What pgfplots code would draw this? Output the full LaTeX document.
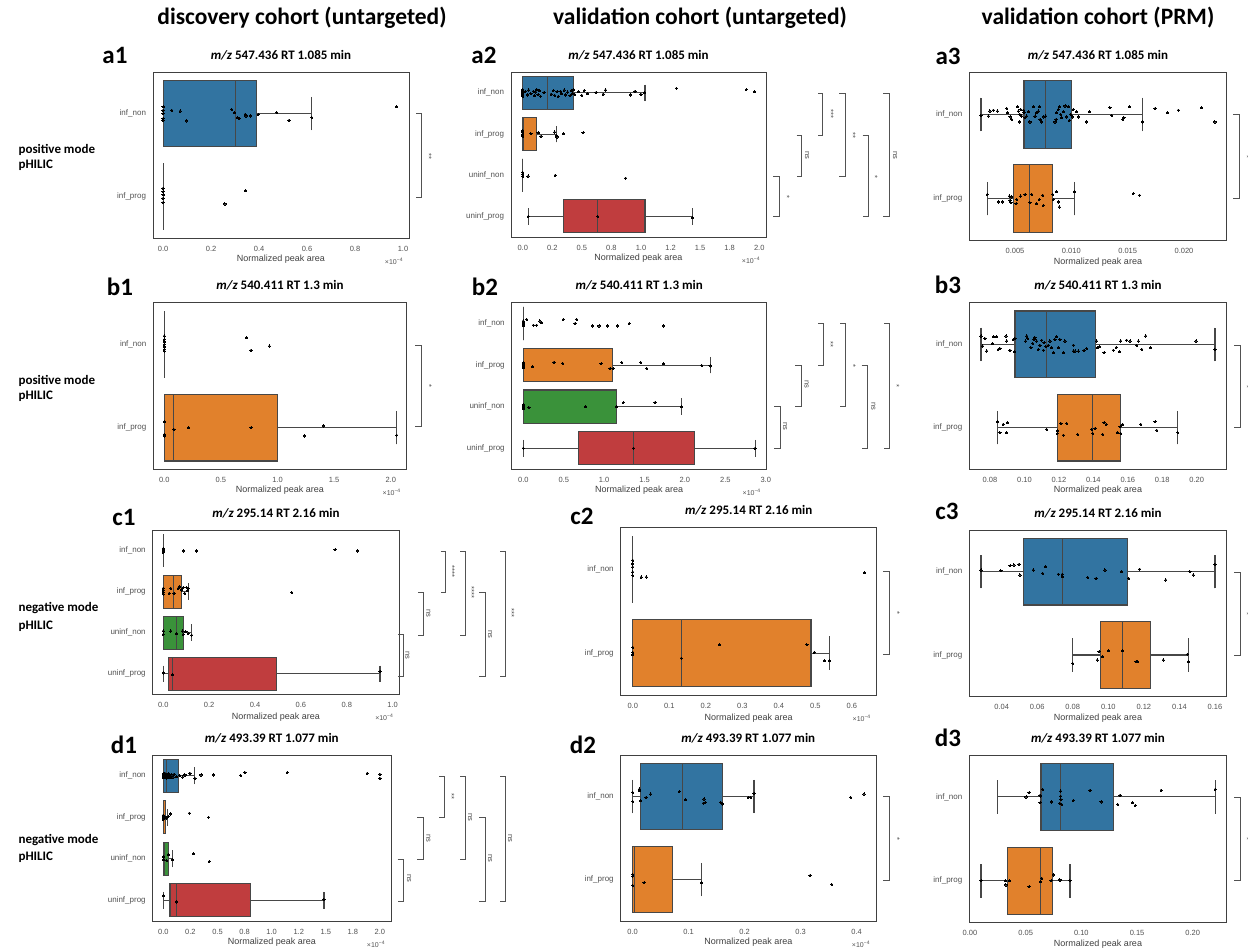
\documentclass[border=0pt]{standalone}
\usepackage{fontspec}
\setmainfont{Liberation Sans}
\newfontfamily\carl{Carlito}
\usepackage{pgfplots}
\pgfplotsset{compat=1.18}
\usepgfplotslibrary{statistics}
\definecolor{cblue}{HTML}{3274A1}
\definecolor{corange}{HTML}{E1812C}
\definecolor{cgreen}{HTML}{3A923A}
\definecolor{cred}{HTML}{C03D3E}
\definecolor{edge}{HTML}{474747}
\pgfplotsset{
  panel/.style={
    scale only axis, clip=false, anchor=south west, scaled x ticks=false, scaled y ticks=false,
    axis line style={draw=black!75, line width=1pt},
    major tick length=0pt, tick style={draw=none},
    tick label style={font=\fontsize{7.5}{9}\selectfont, text=black!68},
    xticklabel style={anchor=center, yshift=-10.5pt},
    yticklabel style={anchor=east, xshift=-3.5pt, font=\fontsize{8}{9}\selectfont},
    title style={font=\carl\bfseries\fontsize{13}{15}\selectfont, anchor=center, at={(0.5,1)}, yshift=11pt},
    xlabel={Normalized peak area},
    xlabel style={font=\fontsize{9}{10}\selectfont, text=black!75, at={(axis description cs:0.5,0)}, anchor=center, yshift=-21pt},
  },
  two/.style={ymin=-1.5, ymax=0.5, ytick={-1,0}, yticklabels={inf\_prog,inf\_non}},
  four/.style={ymin=-3.5, ymax=0.5, ytick={-3,-2,-1,0}, yticklabels={uninf\_prog,uninf\_non,inf\_prog,inf\_non}},
  bx/.style={draw=edge, line width=1.1pt, solid},
  pts/.style={only marks, mark=*, mark size=1.1pt, black, mark options={fill=black, draw=black, line width=0pt}},
}
\newcommand{\bp}[7]{\addplot[bx, fill=#7, boxplot prepared={lower whisker=#1, lower quartile=#2, median=#3, upper quartile=#4, upper whisker=#5, draw position=#6, box extend=0.8, whisker extend=0.4, draw direction=x}] coordinates {};}
\newcommand{\sci}{\node[font=\fontsize{7}{8}\selectfont, text=black!68, xshift=-15pt, yshift=-23pt] at (axis description cs:1,0) {×10\textsuperscript{−4}};}
\tikzset{brk/.style={draw=black!68, line width=1pt}, sig/.style={font=\fontsize{7.5}{8}\selectfont, text=black!70, rotate=-90}}
\newcommand{\br}[7]{\draw[brk] (#1pt,-#3pt) -- (#2pt,-#3pt) -- (#2pt,-#4pt) -- (#1pt,-#4pt); \node[sig] at (#6pt,-#7pt) {#5};}
\begin{document}
\begin{tikzpicture}
\fill[white] (0pt,0pt) rectangle (1248pt,-951pt);
\path[use as bounding box] (0pt,0pt) rectangle (1248pt,-951pt);
% headers
\node[font=\carl\bfseries\fontsize{23.5}{26}\selectfont] at (302pt,-18pt) {discovery cohort (untargeted)};
\node[font=\carl\bfseries\fontsize{23.5}{26}\selectfont] at (700pt,-18pt) {validation cohort (untargeted)};
\node[font=\carl\bfseries\fontsize{23.5}{26}\selectfont] at (1098pt,-18pt) {validation cohort (PRM)};
% row labels
\tikzset{rl/.style={anchor=west, font=\carl\bfseries\fontsize{13}{15}\selectfont}}
\node[rl] at (15pt,-150pt) {positive mode};
\node[rl] at (15pt,-165pt) {pHILIC};
\node[rl] at (15pt,-381pt) {positive mode};
\node[rl] at (15pt,-396pt) {pHILIC};
\node[rl] at (15pt,-608pt) {negative mode};
\node[rl] at (15pt,-626pt) {pHILIC};
\node[rl] at (15pt,-840pt) {negative mode};
\node[rl] at (15pt,-857pt) {pHILIC};
% panel labels
\tikzset{pl/.style={font=\carl\bfseries\fontsize{25}{28}\selectfont}}
\node[pl] at (115pt,-55pt) {a1};
\node[pl] at (484pt,-55pt) {a2};
\node[pl] at (948pt,-56pt) {a3};
\node[pl] at (120pt,-287pt) {b1};
\node[pl] at (485pt,-287pt) {b2};
\node[pl] at (948pt,-285pt) {b3};
\node[pl] at (124pt,-517pt) {c1};
\node[pl] at (582pt,-516pt) {c2};
\node[pl] at (947pt,-511pt) {c3};
\node[pl] at (124pt,-745pt) {d1};
\node[pl] at (583pt,-745pt) {d2};
\node[pl] at (948pt,-738pt) {d3};

% ---------- a1
\begin{axis}[panel, two, at={(153pt,-238pt)}, width=256pt, height=166pt,
  xmin=-0.042, xmax=1.025, xtick={0,0.2,0.4,0.6,0.8,1.0}, xticklabels={0.0,0.2,0.4,0.6,0.8,1.0},
  title={\textit{m/z} 547.436 RT 1.085 min}]
\bp{0}{0.003}{0.30}{0.39}{0.62}{0}{cblue}
\bp{0}{0}{0}{0}{0}{-1}{corange}
\addplot[pts] coordinates {(0,0.08)(0,0.04)(0,0)(0,-0.06)(0,-0.08)(0.036,0.04)(0.071,0.03)(0.096,-0.09)(0.286,0.05)(0.297,0.01)(0.31,-0.05)(0.318,-0.06)(0.342,-0.01)(0.346,-0.03)(0.365,-0.03)(0.397,-0.01)(0.474,0.01)(0.525,-0.08)(0.62,-0.05)(0.974,0.08)
(0,-0.9)(0,-0.94)(0,-0.98)(0,-1.02)(0,-1.07)(0.344,-0.93)(0.258,-1.09)};
\sci
\end{axis}
% ---------- a2
\begin{axis}[panel, four, at={(511pt,-237pt)}, width=255pt, height=164.7pt,
  xmin=-0.099, xmax=2.057, xtick={0,0.25,0.5,0.75,1,1.25,1.5,1.75,2}, xticklabels={0.0,0.2,0.5,0.8,1.0,1.2,1.5,1.8,2.0},
  title={\textit{m/z} 547.436 RT 1.085 min}]
\bp{0}{0}{0.208}{0.431}{1.034}{0}{cblue}
\bp{0}{0}{0.01}{0.118}{0.282}{-1}{corange}
\bp{0}{0}{0}{0}{0}{-2}{cgreen}
\bp{0.048}{0.344}{0.634}{1.034}{1.434}{-3}{cred}
\addplot[pts] coordinates {(0,-0.06)(0,-0.02)(0,0.02)(0,0.05)(0,0.08)(0,-0.09)(0.02,0.03)(0.04,-0.05)(0.05,0.07)(0.07,-0.02)(0.09,0.04)(0.10,-0.07)(0.11,0.02)(0.12,0.08)(0.13,-0.04)(0.14,0.05)(0.15,-0.08)(0.18,0.01)(0.24,-0.03)(0.26,0.06)(0.27,-0.06)(0.29,0.03)(0.30,-0.09)(0.32,0.04)(0.33,-0.02)(0.35,0.07)(0.36,-0.05)(0.38,0.02)(0.40,-0.07)(0.41,0.05)(0.42,-0.01)(0.43,0.08)(0.44,-0.04)(0.47,0.03)(0.50,-0.06)(0.52,0.06)(0.55,-0.02)(0.62,0.01)(0.68,-0.03)(0.70,0.07)(0.91,-0.05)(0.95,0.04)(1.00,-0.03)(1.03,0.01)(1.30,0.11)(1.89,0.08)(1.96,0.03)
(0,-0.92)(0,-0.96)(0,-1.0)(0,-1.03)(0,-1.06)(0.07,-0.99)(0.13,-0.97)(0.155,-1.05)(0.27,-0.95)(0.285,-1.03)(0.29,-1.07)(0.345,-0.99)(0.51,-0.97)
(0,-1.93)(0,-1.98)(0,-2.03)(0.045,-2.02)(0.275,-2.0)(0.87,-2.07)
(0.048,-3.0)(0.634,-3.0)(1.434,-3.03)};
\sci
\end{axis}
% ---------- a3
\begin{axis}[panel, two, at={(969.3pt,-240.7pt)}, width=257.4pt, height=168.4pt,
  xmin=0.000944, xmax=0.02379, xtick={0.005,0.010,0.015,0.020}, xticklabels={0.005,0.010,0.015,0.020},
  title={\textit{m/z} 547.436 RT 1.085 min}]
\bp{0.00198}{0.0058}{0.00772}{0.01003}{0.0163}{0}{cblue}
\bp{0.00254}{0.00485}{0.00627}{0.00835}{0.01027}{-1}{corange}
\addplot[pts] coordinates {(0.00198,-0.01)(0.00263,-0.02)(0.00278,0.04)(0.00308,0.05)(0.00343,0.04)(0.00426,0.07)(0.00432,0.02)(0.00456,-0.03)(0.00470,-0.06)(0.00521,0.09)(0.00530,0.04)(0.00538,-0.09)(0.00544,0)(0.00550,0.06)(0.00559,-0.02)(0.00574,0.05)(0.00580,0.02)(0.00589,-0.04)(0.00604,-0.02)(0.00618,0.03)(0.00633,-0.09)(0.00663,0.09)(0.00678,-0.02)(0.00692,0.02)(0.00707,0.04)(0.00716,0.09)(0.00722,-0.06)(0.00737,-0.09)(0.00757,-0.03)(0.00772,-0.02)(0.00855,-0.09)(0.00864,-0.06)(0.00870,0.02)(0.00885,0.06)(0.00893,0.09)(0.00905,0)(0.00914,-0.04)(0.00929,0.03)(0.00944,0.1)(0.00959,-0.03)(0.00973,0.09)(0.00982,-0.07)(0.00994,0)(0.01009,-0.03)(0.01018,0.06)(0.01047,0.03)(0.01062,-0.03)(0.01136,-0.09)(0.01160,0.03)(0.01343,0.08)(0.01358,-0.01)(0.01456,-0.06)(0.01467,-0.04)(0.01515,0.09)(0.01630,-0.09)(0.01743,0.07)(0.01852,0.02)(0.01950,0.05)(0.02157,0.08)(0.02275,-0.09)
(0.00254,-0.95)(0.00352,-1.04)(0.00391,-1.04)(0.00450,-0.97)(0.00456,-1.02)(0.00464,-1.05)(0.00470,-0.98)(0.00509,-1.06)(0.00515,-1.01)(0.00550,-0.97)(0.00589,-0.95)(0.00633,-1.05)(0.00648,-0.95)(0.00692,-1.06)(0.00716,-1.01)(0.00746,-0.96)(0.00751,-1.08)(0.00834,-0.95)(0.00840,-1.01)(0.00870,-0.92)(0.00885,-1.04)(0.00893,-1.1)(0.01027,-0.92)(0.01550,-0.94)(0.01604,-0.96)};
\end{axis}
% ---------- b1
\begin{axis}[panel, two, at={(153.3pt,-469.3pt)}, width=253.4pt, height=166.6pt,
  xmin=-0.097, xmax=2.141, xtick={0,0.5,1,1.5,2}, xticklabels={0.0,0.5,1.0,1.5,2.0},
  title={\textit{m/z} 540.411 RT 1.3 min}]
\bp{0}{0}{0}{0}{0}{0}{cblue}
\bp{0}{0}{0.085}{1.0}{2.053}{-1}{corange}
\addplot[pts] coordinates {(0,0.1)(0,0.06)(0,0.03)(0,0)(0,-0.03)(0,-0.06)(0,-0.08)(0.728,0.08)(0.766,-0.07)(0.928,-0.02)
(0,-0.93)(0,-1.08)(0,-1.1)(0.085,-1.02)(0.215,-1.0)(0.766,-1.0)(1.237,-1.1)(1.405,-0.98)(2.053,-1.09)};
\sci
\end{axis}
% ---------- b2
\begin{axis}[panel, four, at={(511.7pt,-469pt)}, width=255pt, height=166.3pt,
  xmin=-0.144, xmax=3.012, xtick={0,0.5,1,1.5,2,2.5,3}, xticklabels={0.0,0.5,1.0,1.5,2.0,2.5,3.0},
  title={\textit{m/z} 540.411 RT 1.3 min}]
\bp{0}{0}{0}{0}{0}{0}{cblue}
\bp{0}{0}{0}{1.106}{2.311}{-1}{corange}
\bp{0}{0}{0}{1.156}{1.96}{-2}{cgreen}
\bp{0}{0.681}{1.362}{2.117}{2.868}{-3}{cred}
\addplot[pts] coordinates {(0,0.06)(0,0.02)(0,-0.02)(0,-0.05)(0.041,0.1)(0.124,-0.04)(0.165,-0.04)(0.206,0.06)(0.227,0.02)(0.495,0.1)(0.64,0)(0.66,0.1)(0.858,-0.06)(0.937,-0.06)(1.04,-0.06)(1.164,-0.06)(1.31,0)(1.733,-0.06)
(0,-0.95)(0,-0.99)(0,-1.02)(0,-1.06)(0.116,-1.04)(0.38,-0.93)(0.487,-0.96)(0.962,-0.97)(1.073,-1.08)(1.114,-1.08)(1.218,-0.94)(1.453,-0.94)(1.527,-1.08)(1.733,-0.97)(2.208,-1.01)(2.311,-1.02)
(0,-1.95)(0,-1.99)(0,-2.02)(0,-2.05)(0.07,-2.02)(0.77,-2.0)(1.156,-2.0)(1.238,-1.9)(1.63,-1.9)(1.96,-2.0)
(0,-3.0)(1.362,-3.0)(2.868,-3.0)};
\sci
\end{axis}
% ---------- b3
\begin{axis}[panel, two, at={(969.3pt,-469.3pt)}, width=257.4pt, height=166.6pt,
  xmin=0.068, xmax=0.2174, xtick={0.08,0.10,0.12,0.14,0.16,0.18,0.20}, xticklabels={0.08,0.10,0.12,0.14,0.16,0.18,0.20},
  title={\textit{m/z} 540.411 RT 1.3 min}]
\bp{0.0748}{0.0945}{0.1129}{0.1415}{0.2106}{0}{cblue}
\bp{0.0845}{0.1191}{0.1396}{0.1555}{0.1890}{-1}{corange}
\addplot[pts] coordinates {(0.0748,0.1)(0.0757,-0.02)(0.0771,0.07)(0.0781,-0.08)(0.0815,0.01)(0.0823,0.09)(0.0839,0.09)(0.0848,-0.06)(0.0858,-0.05)(0.0893,0.1)(0.0897,0.04)(0.0916,-0.07)(0.0935,0.06)(0.0941,-0.09)(0.0945,0.07)(0.1007,0.04)(0.1013,0.1)(0.1019,0.07)(0.1038,-0.04)(0.1048,0.01)(0.1055,0.06)(0.1061,0.08)(0.1071,0.04)(0.1081,-0.06)(0.1090,-0.01)(0.1100,0.05)(0.1110,-0.07)(0.1114,0.02)(0.1125,-0.03)(0.1139,-0.01)(0.1148,0.04)(0.1158,-0.04)(0.1168,-0.1)(0.1177,0.06)(0.1187,0.09)(0.1197,-0.04)(0.1206,0.06)(0.1226,-0.1)(0.1235,0.04)(0.1284,-0.01)(0.1284,-0.08)(0.1294,-0.08)(0.1313,-0.08)(0.1346,-0.07)(0.1361,-0.05)(0.1419,0.04)(0.1423,-0.04)(0.1435,-0.03)(0.1462,-0.1)(0.1516,-0.07)(0.1532,-0.04)(0.1551,-0.09)(0.1559,0.04)(0.1593,0.05)(0.1613,0.04)(0.1652,-0.01)(0.1661,0.04)(0.1681,-0.06)(0.1704,0.1)(0.1733,-0.04)(0.1996,0.04)(0.2106,-0.06)
(0.0845,-0.93)(0.0877,-0.96)(0.0901,-0.94)(0.0858,-1.06)(0.0897,-1.06)(0.1129,-1.02)(0.1191,-1.07)(0.1191,-1.04)(0.1212,-0.95)(0.1226,-1.09)(0.1245,-0.95)(0.1309,-1.08)(0.1390,-1.02)(0.1396,-1.07)(0.1410,-1.01)(0.1454,-1.08)(0.1462,-0.94)(0.1474,-0.96)(0.1539,-1.06)(0.1555,-0.99)(0.1559,-1.07)(0.1564,-0.97)(0.1570,-0.96)(0.1675,-0.96)(0.1758,-0.93)(0.1768,-1.03)(0.1890,-1.06)};
\end{axis}
% ---------- c1
\begin{axis}[panel, four, at={(152.7pt,-694.3pt)}, width=246.6pt, height=164.3pt,
  xmin=-0.046, xmax=1.029, xtick={0,0.2,0.4,0.6,0.8,1.0}, xticklabels={0.0,0.2,0.4,0.6,0.8,1.0},
  xlabel style={yshift=-2pt},
  title={\textit{m/z} 295.14 RT 2.16 min}]
\bp{0}{0}{0}{0}{0}{0}{cblue}
\bp{0}{0}{0.044}{0.08}{0.109}{-1}{corange}
\bp{0}{0}{0.058}{0.087}{0.124}{-2}{cgreen}
\bp{0}{0.022}{0.041}{0.494}{0.945}{-3}{cred}
\addplot[pts] coordinates {(0,0.05)(0,0.02)(0,0)(0,-0.02)(0,-0.05)(0.087,-0.01)(0.145,-0.01)(0.749,0.02)(0.846,-0.01)
(0,-0.92)(0,-0.97)(0,-1.02)(0,-1.06)(0.026,-1.04)(0.033,-0.92)(0.047,-1.04)(0.065,-0.92)(0.07,-0.88)(0.08,-0.96)(0.087,-0.9)(0.094,-1.04)(0.102,-0.9)(0.106,-0.98)(0.109,-0.92)(0.56,-1.02)
(0,-1.96)(0,-2.04)(0.033,-1.96)(0.058,-2.02)(0.084,-1.96)(0.087,-2.04)(0.099,-1.98)(0.109,-2.02)(0.124,-2.06)
(0,-2.98)(0.041,-3.02)(0.945,-2.94)};
\sci
\end{axis}
% ---------- c2
\begin{axis}[panel, two, at={(620.7pt,-695pt)}, width=256pt, height=167.3pt,
  xmin=-0.033, xmax=0.668, xtick={0,0.1,0.2,0.3,0.4,0.5,0.6}, xticklabels={0.0,0.1,0.2,0.3,0.4,0.5,0.6},
  xlabel style={yshift=-2pt},
  title={\textit{m/z} 295.14 RT 2.16 min}]
\bp{0}{0}{0}{0}{0}{0}{cblue}
\bp{0}{0}{0.133}{0.488}{0.539}{-1}{corange}
\addplot[pts] coordinates {(0,0.11)(0,0.07)(0,0.03)(0,-0.03)(0,-0.07)(0.023,-0.09)(0.037,-0.09)(0.634,-0.04)
(0,-0.93)(0,-0.99)(0,-1.02)(0.133,-1.06)(0.237,-0.9)(0.477,-0.9)(0.497,-0.99)(0.525,-1.09)(0.539,-1.09)};
\sci
\end{axis}
% ---------- c3
\begin{axis}[panel, two, at={(969.3pt,-696.7pt)}, width=257.4pt, height=166.7pt,
  xmin=0.0218, xmax=0.1666, xtick={0.04,0.06,0.08,0.10,0.12,0.14,0.16}, xticklabels={0.04,0.06,0.08,0.10,0.12,0.14,0.16},
  title={\textit{m/z} 295.14 RT 2.16 min}]
\bp{0.0284}{0.0522}{0.0741}{0.1107}{0.16}{0}{cblue}
\bp{0.0799}{0.0957}{0.1081}{0.1238}{0.145}{-1}{corange}
\addplot[pts] coordinates {(0.0284,0.02)(0.0396,0.01)(0.0447,0.07)(0.0469,0.08)(0.0498,0.09)(0.0503,-0.04)(0.0578,0.02)(0.0631,-0.02)(0.0648,0.06)(0.0719,-0.03)(0.0741,-0.03)(0.0741,-0.06)(0.0884,-0.07)(0.0931,-0.08)(0.0981,0.02)(0.1075,0)(0.1114,-0.08)(0.1176,0.03)(0.1323,-0.1)(0.1459,0)(0.1478,-0.04)(0.16,0.09)
(0.0799,-1.1)(0.0938,-1.06)(0.0948,-0.96)(0.0968,-1.02)(0.1000,-0.95)(0.1081,-0.95)(0.1156,-1.08)(0.1163,-1.08)(0.1309,-1.06)(0.1446,-0.99)(0.145,-1.08)};
\end{axis}
% ---------- d1
\begin{axis}[panel, four, at={(152.7pt,-921pt)}, width=238.3pt, height=166pt,
  xmin=-0.098, xmax=2.102, xtick={0,0.25,0.5,0.75,1,1.25,1.5,1.75,2}, xticklabels={0.0,0.2,0.5,0.8,1.0,1.2,1.5,1.8,2.0},
  title={\textit{m/z} 493.39 RT 1.077 min}]
\bp{0}{0}{0.031}{0.138}{0.292}{0}{cblue}
\bp{0}{0}{0.005}{0.022}{0.035}{-1}{corange}
\bp{0}{0.005}{0.012}{0.046}{0.083}{-2}{cgreen}
\bp{0}{0.062}{0.123}{0.806}{1.483}{-3}{cred}
\addplot[pts] coordinates {(0,0.05)(0,0)(0,-0.05)(0.005,0.03)(0.01,-0.03)(0.015,0.06)(0.02,-0.02)(0.025,0.02)(0.03,-0.06)(0.035,0.04)(0.04,0)(0.045,-0.04)(0.05,0.05)(0.055,-0.01)(0.06,0.03)(0.07,-0.05)(0.08,0.02)(0.09,-0.03)(0.1,0.04)(0.12,-0.02)(0.15,0.01)(0.18,-0.03)(0.2,0.02)(0.246,0.06)(0.292,-0.06)(0.348,0.02)(0.462,0.02)(0.714,0.01)(0.754,0.08)(1.145,0.08)(1.883,0.06)(2.0,0.04)(2.0,-0.06)
(0,-0.95)(0,-0.98)(0,-1.02)(0,-1.05)(0.02,-1.0)(0.03,-1.02)(0.045,-0.98)(0.068,-0.92)(0.24,-0.9)(0.418,-1.0)
(0,-1.95)(0,-2.02)(0.03,-2.04)(0.046,-1.9)(0.083,-2.02)(0.277,-1.88)(0.425,-2.06)
(0,-2.89)(0.123,-3.04)(1.483,-2.98)};
\sci
\end{axis}
% ---------- d2
\begin{axis}[panel, two, at={(620.7pt,-921pt)}, width=255.3pt, height=166pt,
  xmin=-0.0214, xmax=0.4345, xtick={0,0.1,0.2,0.3,0.4}, xticklabels={0.0,0.1,0.2,0.3,0.4},
  title={\textit{m/z} 493.39 RT 1.077 min}]
\bp{0}{0.0143}{0.0893}{0.160}{0.2167}{0}{cblue}
\bp{0}{0}{0.003}{0.0714}{0.1232}{-1}{corange}
\addplot[pts] coordinates {(0,0.05)(0,-0.06)(0.0119,0.09)(0.0119,0.07)(0.0143,-0.05)(0.0238,-0.01)(0.0321,0.03)(0.0833,0.06)(0.0946,-0.04)(0.1274,-0.03)(0.1298,-0.07)(0.1262,-0.08)(0.1571,-0.07)(0.1601,-0.09)(0.2065,-0.01)(0.2107,-0.01)(0.2167,0.04)(0.3893,-0.01)(0.4131,0.03)
(0,-0.94)(0,-0.96)(0,-1.07)(0.0202,-1.04)(0.1232,-1.04)(0.3167,-0.95)(0.3554,-1.06)};
\sci
\end{axis}
% ---------- d3
\begin{axis}[panel, two, at={(969.3pt,-922.7pt)}, width=257.4pt, height=167.7pt,
  xmin=-0.0006, xmax=0.2305, xtick={0,0.05,0.10,0.15,0.20}, xticklabels={0.00,0.05,0.10,0.15,0.20},
  title={\textit{m/z} 493.39 RT 1.077 min}]
\bp{0.0249}{0.0638}{0.0814}{0.1287}{0.2201}{0}{cblue}
\bp{0.0099}{0.0335}{0.0635}{0.0743}{0.0898}{-1}{corange}
\addplot[pts] coordinates {(0.0503,0)(0.0530,0.05)(0.0629,0.02)(0.0635,0.01)(0.0629,-0.07)(0.0653,0.09)(0.0734,-0.06)(0.0808,-0.08)(0.0814,0.07)(0.0817,-0.03)(0.0823,-0.09)(0.0814,0.01)(0.0928,-0.04)(0.1078,0.08)(0.1177,-0.06)(0.1326,-0.09)(0.1347,0.02)(0.1458,-0.07)(0.1485,-0.1)(0.1716,0.08)(0.2201,0.09)
(0.0099,-1)(0.0317,-1)(0.0323,-1.05)(0.0353,-1)(0.0530,-1.07)(0.0635,-1.01)(0.0644,-0.97)(0.0728,-1)(0.0749,-0.93)(0.0808,-0.99)(0.0898,-1)};
\end{axis}

% ---------- significance brackets
\br{416}{421.7}{113.3}{197.3}{**}{429}{156}
\br{773.3}{779.3}{176.7}{216.7}{*}{787}{196.7}
\br{796.7}{801.7}{135.7}{176.7}{ns}{807}{155}
\br{818.3}{822.7}{93.3}{135.7}{***}{831}{114}
\br{839.3}{845}{93.3}{176.7}{**}{853}{135}
\br{862.7}{868.3}{135.7}{216.7}{*}{875}{176.7}
\br{883.3}{889.3}{93.3}{216.7}{ns}{895}{155}
\br{1233.3}{1239.3}{114}{198.3}{*}{1247}{156.7}
\br{415}{421.7}{345}{426}{*}{429.3}{386}
\br{774}{780}{406.7}{448.3}{ns}{785}{426.7}
\br{795}{801.7}{365.7}{406.7}{ns}{806.7}{384.3}
\br{818.3}{823.3}{323.3}{365.7}{**}{830.7}{344}
\br{840}{845}{323.3}{406.7}{*}{853.3}{366}
\br{861.7}{867.3}{365.7}{448.3}{ns}{873.3}{406.7}
\br{884}{889.3}{323.3}{448.3}{*}{896.7}{386}
\br{1234.3}{1240}{345}{427.3}{*}{1247}{386.7}
\br{398.3}{403.3}{634.3}{676}{ns}{407.3}{655}
\br{418.3}{423.3}{592.3}{635}{ns}{428.3}{613.3}
\br{440.7}{445}{551}{592.3}{****}{452.3}{571.7}
\br{460}{465}{551}{635}{****}{471.7}{592.7}
\br{479.3}{485}{592.3}{676}{ns}{490}{634.3}
\br{500}{505}{551}{676}{***}{511.7}{613.3}
\br{883.3}{889.3}{571.7}{654.3}{*}{897.3}{613.3}
\br{1234.3}{1240}{572.3}{655.7}{*}{1247}{614}
\br{397.7}{403.3}{859.3}{901.7}{ns}{409}{878.3}
\br{417.3}{423.3}{817.7}{859.3}{ns}{428.3}{838.3}
\br{439.3}{444}{776.7}{817.7}{**}{451.7}{796.7}
\br{460}{465}{776.7}{859.3}{ns}{470}{817.3}
\br{479.3}{485}{817.7}{901.7}{ns}{490}{858.3}
\br{500}{505}{776.7}{901.7}{ns}{510}{838.3}
\br{883.3}{889.3}{796.7}{880}{*}{897.3}{839}
\br{1234.3}{1240}{797.3}{880.7}{*}{1247}{839}
\end{tikzpicture}
\end{document}
